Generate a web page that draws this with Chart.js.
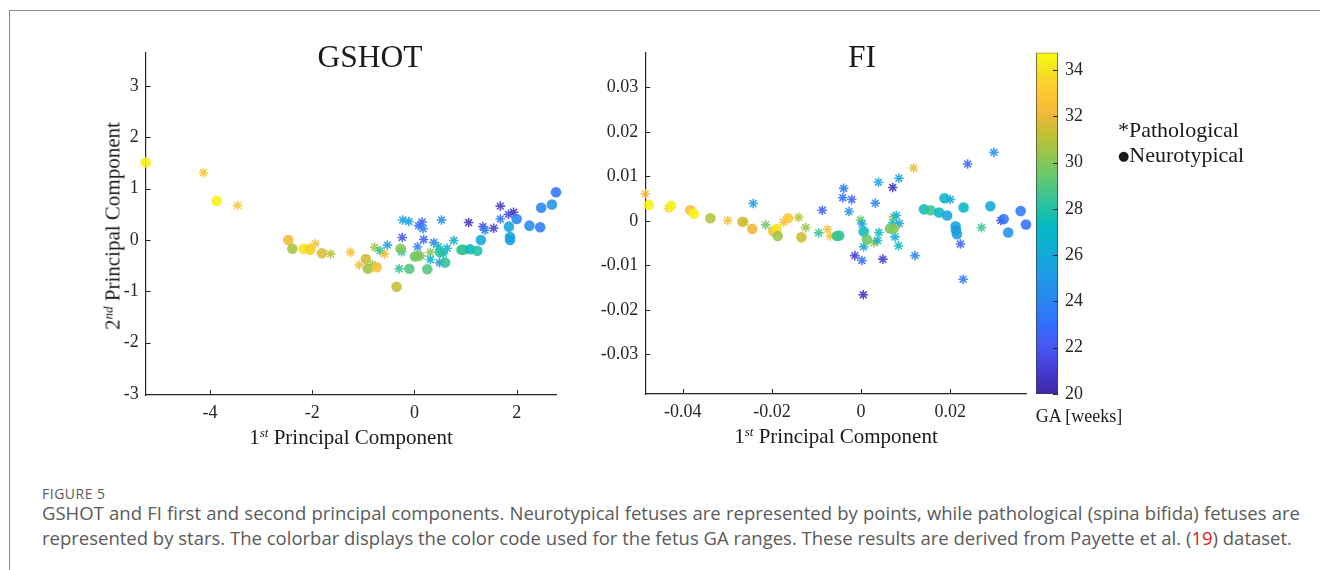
<!DOCTYPE html>
<html>
<head>
<meta charset="utf-8">
<script src="https://cdn.jsdelivr.net/npm/chart.js@4.4.1/dist/chart.umd.min.js"></script>
<style>
  html, body { margin: 0; padding: 0; background: #fff; }
  body { width: 1320px; height: 570px; position: relative; overflow: hidden; font-family: "Liberation Serif", serif; color: #1a1a1a; }
  canvas { position: absolute; }
  .frame { position: absolute; left: 9px; top: 10px; width: 1400px; height: 700px; border-top: 1px solid #8c8c8c; border-left: 1px solid #8c8c8c; }
  .lbl { position: absolute; white-space: nowrap; transform: translate(-50%, -50%); }
  .title { font-size: 31.5px; }
  .axlbl { font-size: 21px; }
  .axlbl sup { font-size: 0.62em; font-style: italic; vertical-align: baseline; position: relative; top: -0.55em; }
  .legend { position: absolute; left: 1118px; font-size: 22px; white-space: nowrap; transform: translateY(-50%); }
  .dot { font-family: "DejaVu Sans", sans-serif; font-size: 13px; position: relative; top: -2px; }
  .caption { position: absolute; left: 42px; width: 1258px; font-family: "Open Sans", sans-serif; color: #5a5a5a; white-space: nowrap; }
  .fig { top: 484px; font-size: 14px; letter-spacing: 0.5px; }
  .line1 { top: 500px; font-size: 18.5px; text-align: justify; text-align-last: justify; }
  .line2 { top: 525px; font-size: 18.5px; }
  .ref { color: #d7191c; }
</style>
</head>
<body>
<div class="frame"></div>

<canvas id="gshot" width="510" height="385" style="left:60px; top:40px;"></canvas>
<canvas id="fi" width="476" height="385" style="left:560px; top:40px;"></canvas>
<canvas id="cbar" width="100" height="385" style="left:1030px; top:40px;"></canvas>

<div class="lbl title" style="left:370px; top:57px;">GSHOT</div>
<div class="lbl title" style="left:862px; top:57px;">FI</div>
<div class="lbl axlbl" style="left:351px; top:437px;">1<sup>st</sup> Principal Component</div>
<div class="lbl axlbl" style="left:836px; top:436px;">1<sup>st</sup> Principal Component</div>
<div class="lbl axlbl" style="left:113px; top:226px; transform: translate(-50%, -50%) rotate(-90deg);">2<sup>nd</sup> Principal Component</div>
<div class="lbl" style="left:1079px; top:416px; font-size:18px;">GA [weeks]</div>
<div class="legend" style="top:130px;">*Pathological</div>
<div class="legend" style="top:155px;"><span class="dot">&#9679;</span>Neurotypical</div>

<div class="caption fig">FIGURE 5</div>
<div class="caption line1">GSHOT and FI first and second principal components. Neurotypical fetuses are represented by points, while pathological (spina bifida) fetuses are</div>
<div class="caption line2">represented by stars. The colorbar displays the color code used for the fetus GA ranges. These results are derived from Payette et al. (<span class="ref">19</span>) dataset.</div>

<script>
// ---- GA colour range (weeks) ----
const GA_MIN = 20;
const GA_MAX = 34.75;
const gaTicks = [20, 22, 24, 26, 28, 30, 32, 34];

// ---- GSHOT: pathological (stars) ----
const gshotPathX = [-4.13, -3.46, -1.94, -1.64, -1.25, -1.08, -0.82, -0.78, -0.67, -0.59, -0.53, -0.30, -0.25, -0.24, -0.23, -0.11, 0.06, 0.08, 0.13, 0.15, 0.17, 0.18, 0.31, 0.31, 0.38, 0.47, 0.49, 0.53, 0.57, 0.64, 0.77, 1.06, 1.34, 1.38, 1.55, 1.68, 1.68, 1.84, 1.94];
const gshotPathY = [1.31, 0.67, -0.07, -0.27, -0.24, -0.49, -0.48, -0.14, -0.21, -0.27, -0.10, -0.56, -0.23, 0.05, 0.39, 0.36, -0.13, 0.28, -0.31, 0.35, 0.22, 0.01, -0.24, -0.38, -0.05, -0.13, -0.44, 0.39, -0.26, -0.16, -0.01, 0.34, 0.26, 0.19, 0.23, 0.66, 0.41, 0.50, 0.54];
const gshotPathGA = [33, 33, 32.5, 31, 32.5, 32.5, 30, 30.5, 28, 32, 25.5, 28.5, 27, 22, 25.5, 25.5, 24, 23, 30, 22.5, 24, 22.5, 30, 26.5, 24, 27.5, 24.5, 24.5, 27, 26.5, 26.5, 20.5, 21.5, 24, 21, 21, 23.5, 21.5, 20.5];

// ---- GSHOT: neurotypical (points) ----
const gshotNormX = [-5.26, -3.87, -2.47, -2.39, -2.17, -2.07, -2.04, -1.81, -0.95, -0.91, -0.74, -0.35, -0.27, -0.10, 0.01, 0.07, 0.25, 0.50, 0.60, 0.92, 0.96, 1.09, 1.23, 1.30, 1.85, 1.87, 1.87, 2.00, 2.25, 2.46, 2.48, 2.69, 2.77];
const gshotNormY = [1.51, 0.76, 0.00, -0.17, -0.17, -0.17, -0.19, -0.26, -0.37, -0.56, -0.53, -0.91, -0.17, -0.56, -0.32, -0.31, -0.57, -0.24, -0.44, -0.19, -0.19, -0.18, -0.21, 0.00, 0.26, 0.06, 0.00, 0.41, 0.28, 0.25, 0.63, 0.69, 0.93];
const gshotNormGA = [34.5, 34.5, 32.3, 30.7, 34, 34, 33.3, 31.7, 31.5, 30.5, 32.5, 31.3, 30, 29, 29.5, 29.8, 29, 28, 28.3, 28.3, 28.5, 27.3, 28, 25.8, 26, 25.5, 25.5, 24, 24.3, 23.7, 24, 24.8, 23.3];

// ---- FI: pathological (stars) ----
const fiPathX = [-0.0484, -0.0432, -0.0299, -0.0262, -0.0242, -0.0214, -0.0174, -0.0140, -0.0124, -0.0095, -0.0087, -0.0075, -0.0069, -0.0039, -0.0041, -0.0027, -0.0021, -0.0014, -0.0001, 0.0002, 0.0002, 0.0005, 0.0006, 0.0029, 0.0032, 0.0037, 0.0039, 0.0040, 0.0049, 0.0071, 0.0071, 0.0073, 0.0076, 0.0079, 0.0084, 0.0086, 0.0085, 0.0118, 0.0121, 0.0200, 0.0223, 0.0229, 0.0239, 0.0270, 0.0298, 0.0314];
const fiPathY = [0.0061, 0.0028, 0.0001, -0.0002, 0.0039, -0.0009, -0.0003, 0.0008, -0.0015, -0.0027, 0.0024, -0.0019, -0.0034, 0.0073, 0.0052, 0.0021, 0.0048, -0.0078, 0.0002, -0.0007, -0.0089, -0.0166, -0.0058, -0.0049, 0.0040, -0.0044, 0.0087, -0.0026, -0.0086, 0.0075, -0.0004, 0.0009, -0.0036, 0.0012, -0.0056, -0.0006, 0.0096, 0.0119, -0.0078, 0.0048, -0.0052, -0.0131, 0.0128, -0.0015, 0.0154, 0.0001];
const fiPathGA = [32.5, 33, 32.5, 31, 25.5, 29.5, 32.5, 31, 30.5, 28.5, 22.5, 32.5, 32.5, 23.5, 23, 24.5, 22.5, 21, 29.5, 25.5, 23, 20.5, 26, 30.5, 24, 26.5, 25.5, 27.5, 21, 20.5, 27, 30, 26.5, 26.5, 27.5, 25.5, 25.5, 32, 24, 25, 22.5, 23.5, 22.5, 28.5, 24.5, 21];

// ---- FI: neurotypical (points) ----
const fiNormX = [-0.0476, -0.0426, -0.0383, -0.0375, -0.0338, -0.0266, -0.0244, -0.0197, -0.0189, -0.0187, -0.0164, -0.0134, -0.0054, -0.0049, 0.0006, 0.0013, 0.0065, 0.0073, 0.0141, 0.0156, 0.0175, 0.0187, 0.0193, 0.0212, 0.0213, 0.0215, 0.0230, 0.0290, 0.0320, 0.0330, 0.0358, 0.0370];
const fiNormY = [0.0036, 0.0034, 0.0024, 0.0016, 0.0006, -0.0002, -0.0018, -0.0023, -0.0018, -0.0034, 0.0006, -0.0037, -0.0034, -0.0033, -0.0024, -0.0042, -0.0017, -0.0017, 0.0026, 0.0024, 0.0019, 0.0051, 0.0012, -0.0012, -0.0021, -0.0030, 0.0030, 0.0033, 0.0004, -0.0026, 0.0022, -0.0008];
const fiNormGA = [34.5, 34.5, 32.5, 34.5, 31, 31.5, 32, 32.5, 34, 30.5, 33, 31.5, 28.5, 28.5, 27.5, 29.5, 29.5, 30, 27.5, 28.5, 27, 27, 25.5, 26, 25, 25.5, 27, 26, 23.5, 24.5, 23.5, 23];

// ---- axis ticks ----
const gshotXTicks = [-4, -2, 0, 2];
const gshotYTicks = [-3, -2, -1, 0, 1, 2, 3];
const fiXTicks = [-0.04, -0.02, 0, 0.02];
const fiXLabels = ["-0.04", "-0.02", "0", "0.02"];
const fiYTicks = [-0.03, -0.02, -0.01, 0, 0.01, 0.02, 0.03];
const fiYLabels = ["-0.03", "-0.02", "-0.01", "0", "0.01", "0.02", "0.03"];

// parula-like colormap stops (t, r, g, b)
const PARULA = [
  [0.00, 62, 38, 168], [0.07, 69, 60, 210], [0.14, 70, 88, 245], [0.21, 50, 112, 252],
  [0.28, 40, 135, 240], [0.35, 30, 155, 230], [0.42, 15, 172, 215], [0.49, 5, 185, 195],
  [0.56, 45, 195, 155], [0.63, 95, 200, 115], [0.70, 150, 198, 75], [0.77, 200, 190, 50],
  [0.82, 240, 185, 60], [0.88, 254, 198, 48], [0.94, 245, 222, 38], [1.00, 249, 251, 14]
];

function parula(t, alpha) {
  t = Math.max(0, Math.min(1, t));
  for (let i = 1; i < PARULA.length; i++) {
    const a = PARULA[i - 1], b = PARULA[i];
    if (t <= b[0]) {
      const f = (t - a[0]) / (b[0] - a[0]);
      const r = Math.round(a[1] + (b[1] - a[1]) * f);
      const g = Math.round(a[2] + (b[2] - a[2]) * f);
      const bl = Math.round(a[3] + (b[3] - a[3]) * f);
      return `rgba(${r},${g},${bl},${alpha})`;
    }
  }
  return `rgba(249,251,14,${alpha})`;
}

function gaColor(ga) {
  return parula((ga - GA_MIN) / (GA_MAX - GA_MIN), 0.88);
}

function toPoints(xs, ys) {
  return xs.map((x, i) => ({ x, y: ys[i] }));
}

// no extra label padding, so the chart area sits where we put it
function noPad(axis) {
  axis.paddingTop = 0;
  axis.paddingBottom = 0;
  axis.paddingLeft = 0;
  axis.paddingRight = 0;
}

// ticks pointing into the axes, like matlab
const inwardTicks = {
  id: "inwardTicks",
  afterDraw(chart) {
    const { ctx, chartArea } = chart;
    ctx.save();
    ctx.strokeStyle = "#262626";
    ctx.lineWidth = 1;
    Object.values(chart.scales).forEach(s => {
      if (!s.options.display) return;
      s.ticks.forEach(t => {
        const p = Math.round(s.getPixelForValue(t.value)) + 0.5;
        ctx.beginPath();
        if (s.isHorizontal()) {
          ctx.moveTo(p, chartArea.bottom);
          ctx.lineTo(p, chartArea.bottom - 5);
        } else if (s.position === "left") {
          ctx.moveTo(chartArea.left, p);
          ctx.lineTo(chartArea.left + 5, p);
        } else {
          ctx.moveTo(chartArea.right, p);
          ctx.lineTo(chartArea.right - 5, p);
        }
        ctx.stroke();
      });
    });
    ctx.restore();
  }
};

const tickFont = { family: "Liberation Serif", size: 18 };

function makeScatter(id, cfg) {
  const ctx = document.getElementById(id).getContext("2d");
  return new Chart(ctx, {
    type: "scatter",
    data: {
      datasets: [
        {
          label: "Neurotypical",
          data: toPoints(cfg.normX, cfg.normY),
          pointStyle: "circle",
          pointRadius: 5.3,
          borderWidth: 0,
          backgroundColor: cfg.normGA.map(gaColor),
          clip: false
        },
        {
          label: "Pathological",
          data: toPoints(cfg.pathX, cfg.pathY),
          pointStyle: "star",
          pointRadius: 4.8,
          borderWidth: 1.6,
          borderColor: cfg.pathGA.map(gaColor),
          backgroundColor: cfg.pathGA.map(gaColor),
          clip: false
        }
      ]
    },
    options: {
      responsive: false,
      animation: false,
      layout: { padding: cfg.padding },
      plugins: { legend: { display: false }, tooltip: { enabled: false } },
      scales: {
        x: {
          type: "linear",
          min: cfg.xMin,
          max: cfg.xMax,
          grid: { display: false, drawTicks: false },
          border: { display: true, color: "#262626", width: 1.2 },
          afterBuildTicks: axis => { axis.ticks = cfg.xTicks.map(v => ({ value: v })); },
          afterFit: axis => { axis.height = cfg.xHeight; noPad(axis); },
          ticks: {
            color: "#262626",
            font: tickFont,
            padding: 7,
            maxRotation: 0,
            callback: (v, i) => cfg.xLabels[i]
          }
        },
        y: {
          type: "linear",
          min: cfg.yMin,
          max: cfg.yMax,
          grid: { display: false, drawTicks: false },
          border: { display: true, color: "#262626", width: 1.2 },
          afterBuildTicks: axis => { axis.ticks = cfg.yTicks.map(v => ({ value: v })); },
          afterFit: axis => { axis.width = cfg.yWidth; noPad(axis); },
          ticks: {
            color: "#262626",
            font: tickFont,
            padding: 7,
            callback: (v, i) => cfg.yLabels[i]
          }
        }
      }
    },
    plugins: [inwardTicks]
  });
}

makeScatter("gshot", {
  pathX: gshotPathX, pathY: gshotPathY, pathGA: gshotPathGA,
  normX: gshotNormX, normY: gshotNormY, normGA: gshotNormGA,
  xMin: -5.26, xMax: 2.77, yMin: -3.02, yMax: 3.65,
  xTicks: gshotXTicks, xLabels: gshotXTicks.map(String),
  yTicks: gshotYTicks, yLabels: gshotYTicks.map(String),
  padding: { top: 12.7, right: 14, left: 0, bottom: 0 },
  yWidth: 85.7, xHeight: 30
});

makeScatter("fi", {
  pathX: fiPathX, pathY: fiPathY, pathGA: fiPathGA,
  normX: fiNormX, normY: fiNormY, normGA: fiNormGA,
  xMin: -0.0484, xMax: 0.0370, yMin: -0.0389, yMax: 0.0378,
  xTicks: fiXTicks, xLabels: fiXLabels,
  yTicks: fiYTicks, yLabels: fiYLabels,
  padding: { top: 12.7, right: 10, left: 0, bottom: 0 },
  yWidth: 85.3, xHeight: 31
});

// ---- colorbar ----
new Chart(document.getElementById("cbar").getContext("2d"), {
  type: "bar",
  data: {
    labels: ["GA"],
    datasets: [{
      data: [[GA_MIN, GA_MAX]],
      backgroundColor: c => {
        const ch = c.chart;
        const ys = ch.scales.y;
        if (!ch.chartArea || !ys) return "#888";
        const g = ch.ctx.createLinearGradient(0, ys.getPixelForValue(GA_MIN), 0, ys.getPixelForValue(GA_MAX));
        PARULA.forEach(s => g.addColorStop(s[0], `rgb(${s[1]},${s[2]},${s[3]})`));
        return g;
      },
      borderColor: "#3a3a3a",
      borderWidth: 1,
      borderSkipped: false,
      barPercentage: 1,
      categoryPercentage: 1
    }]
  },
  options: {
    responsive: false,
    animation: false,
    layout: { padding: { left: 6, top: 12.7, bottom: 31, right: 0 } },
    plugins: { legend: { display: false }, tooltip: { enabled: false } },
    scales: {
      x: { display: false },
      y: {
        position: "right",
        min: GA_MIN,
        max: GA_MAX,
        grid: { display: false, drawTicks: false },
        border: { display: false },
        afterBuildTicks: axis => { axis.ticks = gaTicks.map(v => ({ value: v })); },
        afterFit: axis => { axis.width = 72; noPad(axis); },
        ticks: { color: "#262626", font: tickFont, padding: 7 }
      }
    }
  },
  plugins: [inwardTicks]
});
</script>
</body>
</html>
